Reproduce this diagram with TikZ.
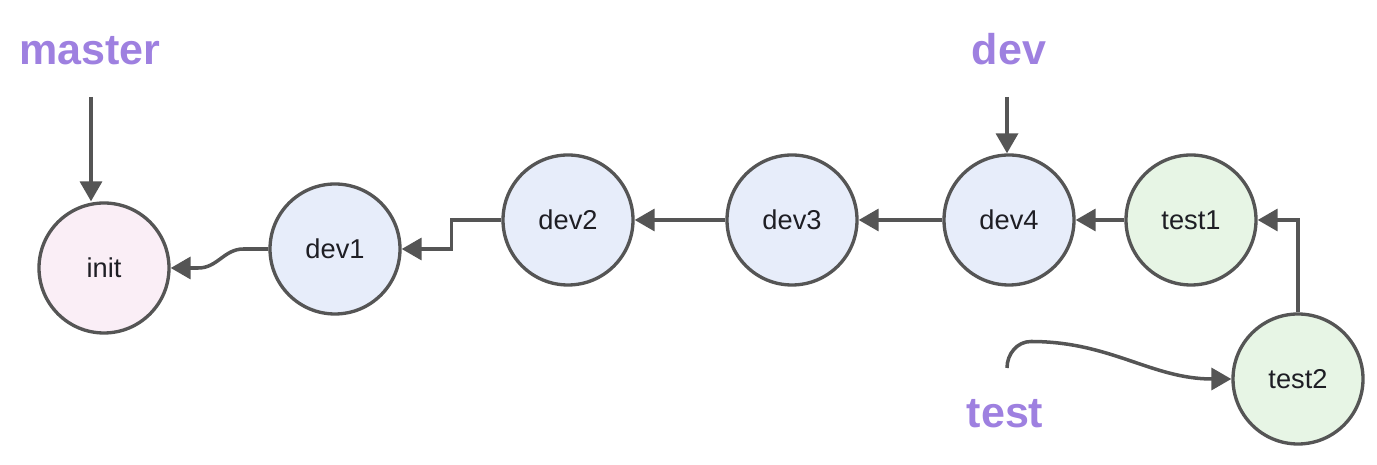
\documentclass[tikz,border=0pt]{standalone}
\usepackage{xcolor}
\usepackage{fontspec}
\setmainfont{Liberation Sans}
\usepackage{tikz}
\usetikzlibrary{arrows.meta, positioning, calc}
\definecolor{mygrey}{RGB}{85,85,85}
\definecolor{mytext}{RGB}{30,30,36}
\definecolor{mypurple}{RGB}{158,128,224}
\definecolor{hdrpink}{RGB}{250,238,246}
\definecolor{hdrblue}{RGB}{231,237,250}
\definecolor{hdrgreen}{RGB}{231,245,229}
\tikzset{
  commit/.style={circle, draw=mygrey, line width=1.9pt,
    minimum size=2.6cm, inner sep=0pt, text=mytext,
    font=\fontsize{15.5}{18}\selectfont},
  initcommit/.style={commit, fill=hdrpink},
  devcommit/.style={commit, fill=hdrblue},
  testcommit/.style={commit, fill=hdrgreen},
  branch/.style={anchor=base, text=mypurple,
    font=\fontsize{24.5}{28}\selectfont\bfseries},
  arrow/.style={-{Triangle[length=0.4cm, width=0.44cm]},
    line width=2pt, color=mygrey}
}

\begin{document}
\begin{tikzpicture}
  \useasboundingbox (0,0) rectangle (27.54,9.3);

  % commits
  \node[initcommit] (init) at (2.08,3.94) {init};
  \node[devcommit] (dev1) at (6.70,4.32) {dev1};
  \node[devcommit] (dev2) at (11.36,4.90) {dev2};
  \node[devcommit] (dev3) at (15.84,4.90) {dev3};
  \node[devcommit] (dev4) at (20.18,4.90) {dev4};
  \node[testcommit] (test1) at (23.82,4.90) {test1};
  \node[testcommit] (test2) at (25.96,1.72) {test2};

  % branch pointers
  \node[branch] (master) at (1.80,8.0) {master};
  \node[branch] (dev) at (20.18,8.0) {dev};
  \node[branch] (test) at (20.10,0.74) {test};
  \coordinate (mtop) at (1.82,7.36);
  \coordinate (dtop) at (20.14,7.36);
  \coordinate (ttail) at (20.14,1.94);
  \coordinate (tpeak) at (20.62,2.47);

  \draw[arrow] (mtop) -- (mtop |- init.north);
  \draw[arrow] (dtop) -- (dtop |- dev4.north);
  \draw[arrow] (ttail) to[out=90,in=180] (tpeak) to[out=0,in=180] (test2.west);

  % parent links
  \draw[arrow] (dev1.west) -- ++(-0.5,0) to[out=180,in=0] ++(-0.9,-0.38) -- (init.east);
  \draw[arrow] (dev2.west) -- ++(-1.0,0) |- (dev1.east);
  \draw[arrow] (dev3) -- (dev2);
  \draw[arrow] (dev4) -- (dev3);
  \draw[arrow] (test1) -- (dev4);
  \draw[arrow] (test2.north) |- (test1.east);
\end{tikzpicture}
\end{document}
